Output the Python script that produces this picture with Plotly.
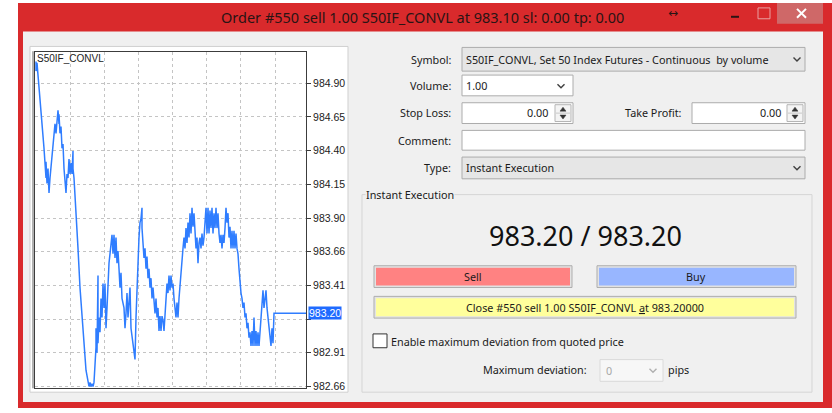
import plotly.graph_objects as go

W, H = 832, 413

# ---------------- data ----------------
symbol = "S50IF_CONVL"
symbol_desc = "Set 50 Index Futures - Continuous  by volume"
order_no = 550
side = "sell"
volume = "1.00"
open_price = "983.10"
sl, tp = "0.00", "0.00"
bid, ask = 983.20, 983.20
order_type = "Instant Execution"
max_dev = "0"

tick_no = [1, 1, 2, 3, 5, 7, 9, 10, 10, 11, 11, 12, 13, 14, 15, 16, 17, 18, 19, 20,
           21, 22, 22, 23, 24, 24, 25, 26, 27, 28, 29, 30, 31, 32, 33, 34, 35, 36, 37, 38,
           38, 39, 41, 43, 45, 47, 49, 51, 53, 54, 55, 56, 57, 58, 59, 60, 61, 61, 62, 63,
           63, 64, 65, 66, 67, 68, 69, 70, 71, 72, 73, 74, 75, 76, 77, 78, 79, 80, 81, 82,
           83, 84, 85, 86, 87, 89, 90, 91, 92, 93, 94, 95, 96, 97, 98, 99, 100, 101, 102, 103,
           104, 105, 106, 107, 107, 108, 109, 110, 111, 112, 113, 114, 115, 116, 117, 118, 119, 120, 121, 122,
           123, 124, 125, 126, 127, 128, 129, 130, 131, 132, 133, 134, 135, 136, 137, 138, 139, 140, 141, 142,
           143, 144, 145, 146, 147, 148, 149, 150, 151, 152, 153, 154, 155, 156, 157, 158, 159, 160, 161, 162,
           163, 164, 165, 166, 167, 168, 169, 170, 171, 172, 173, 174, 175, 176, 177, 178, 179, 180, 181, 182,
           183, 184, 185, 186, 187, 188, 189, 190, 191, 192, 193, 194, 195, 196, 197, 198, 199, 200, 201, 202,
           203, 204, 205, 206, 207, 208, 209, 210, 211, 212, 213, 214, 215, 216, 217, 218, 219, 220, 221, 222,
           223, 224, 225, 226, 227, 228, 229, 230, 231, 232, 233, 234, 235, 236, 237, 238, 239, 271]
price = [985.06, 984.99, 985.05, 984.97, 984.79, 984.60, 984.42, 984.31, 984.38, 984.20,
         984.32, 984.16, 984.27, 984.09, 984.20, 984.27, 984.34, 984.42, 984.49, 984.60,
         984.53, 984.65, 984.58, 984.70, 984.60, 984.67, 984.53, 984.58, 984.42, 984.45,
         984.27, 984.20, 984.09, 984.23, 984.20, 984.34, 984.23, 984.31, 984.23, 984.40,
         984.27, 984.20, 983.98, 983.68, 983.39, 983.17, 982.95, 982.78, 982.70, 982.66,
         982.69, 982.66, 982.68, 982.66, 982.69, 982.80, 982.95, 983.09, 982.91, 983.48,
         982.98, 983.17, 983.06, 983.31, 983.17, 983.42, 983.24, 983.42, 983.09, 983.24,
         983.46, 983.57, 983.64, 983.72, 983.78, 983.64, 983.78, 983.61, 983.76, 983.57,
         983.66, 983.53, 983.39, 983.50, 983.31, 983.24, 983.09, 983.20, 983.35, 983.17,
         983.28, 983.39, 983.09, 983.02, 982.98, 982.91, 982.86, 983.17, 983.39, 983.57,
         983.76, 983.87, 983.90, 983.98, 983.83, 983.72, 983.61, 983.68, 983.53, 983.62,
         983.46, 983.53, 983.39, 983.46, 983.31, 983.39, 983.28, 983.20, 983.31, 983.17,
         983.24, 983.07, 983.18, 983.07, 983.18, 983.15, 983.07, 983.17, 983.31, 983.42,
         983.35, 983.48, 983.37, 983.48, 983.39, 983.42, 983.31, 983.24, 983.17, 983.28,
         983.17, 983.31, 983.42, 983.50, 983.61, 983.68, 983.76, 983.68, 983.83, 983.72,
         983.87, 983.76, 983.94, 983.79, 983.98, 983.84, 983.94, 983.79, 983.68, 983.76,
         983.57, 983.72, 983.76, 983.68, 983.79, 983.70, 983.76, 983.87, 983.98, 983.79,
         983.98, 983.79, 983.96, 983.83, 983.98, 983.79, 983.94, 983.83, 983.98, 983.83,
         983.94, 983.79, 983.72, 983.78, 983.68, 983.78, 983.72, 983.83, 983.98, 983.87,
         983.94, 983.76, 983.84, 983.68, 983.81, 983.68, 983.81, 983.68, 983.79, 983.68,
         983.64, 983.53, 983.42, 983.35, 983.31, 983.24, 983.28, 983.17, 983.20, 983.09,
         983.13, 983.02, 983.06, 982.96, 983.07, 982.96, 983.17, 982.96, 983.07, 982.96,
         983.06, 982.96, 983.06, 983.17, 983.28, 983.37, 983.24, 983.31, 983.37, 983.24,
         983.17, 983.09, 983.02, 982.96, 983.09, 982.98, 983.20, 983.20]

price_ticks = [984.90, 984.651, 984.402, 984.153, 983.904, 983.656, 983.407, 983.158, 982.909, 982.66]
# the 983.16 label is hidden under the current-price tag in the reference
price_tick_labels = ["984.90", "984.65", "984.40", "984.15", "983.90", "983.66", "983.41",
                     "", "982.91", "982.66"]
time_grid = [35, 69, 103, 137, 171.5, 205.5, 240]

# ---------------- helpers ----------------
UI = "Noto Sans"
UIS = 10.8
NUM = "Liberation Sans"
RED = "#d92a2c"
BODY = "#f0f0f0"


def X(px):
    return px / W


def Y(py):
    return 1 - py / H


shapes = []
annots = []


def rect(x0, y0, x1, y1, fill, line=None, lw=1, layer="below"):
    shapes.append(dict(type="rect", xref="paper", yref="paper",
                       x0=X(x0), x1=X(x1), y0=Y(y1), y1=Y(y0),
                       fillcolor=fill,
                       line=dict(color=line if line else "rgba(0,0,0,0)", width=lw if line else 0),
                       layer=layer))


def path(points, color, lw=1.2, fill=None, closed=False, layer="above"):
    d = "M " + " L ".join(f"{X(a):.5f},{Y(b):.5f}" for a, b in points)
    if closed:
        d += " Z"
    shapes.append(dict(type="path", xref="paper", yref="paper", path=d,
                       line=dict(color=color, width=lw),
                       fillcolor=fill if fill else "rgba(0,0,0,0)", layer=layer))


def text(px, py, s, size=UIS, color="#1a1a1a", anchor="left", family=UI, bg=None):
    a = dict(xref="paper", yref="paper", x=X(px), y=Y(py), text=s, showarrow=False,
             xanchor=anchor, yanchor="middle", borderpad=0,
             font=dict(family=family, size=size, color=color))
    if bg:
        a["bgcolor"] = bg
    annots.append(a)


def chevron(cx, cy, color="#404040"):
    path([(cx - 3.5, cy - 1.8), (cx, cy + 1.8), (cx + 3.5, cy - 1.8)], color, lw=1.4)


def spinner(x0, y0, x1, y1):
    rect(x0, y0, x1, y1, "#f4f4f4", "#b5b5b5")
    cx = (x0 + x1) / 2
    my = (y0 + y1) / 2
    path([(x0 + 1, my), (x1 - 1, my)], "#c8c8c8", lw=1)
    path([(cx - 3, my - 2), (cx + 3, my - 2), (cx, my - 6)], "#333", lw=0.5, fill="#333", closed=True)
    path([(cx - 3, my + 2), (cx + 3, my + 2), (cx, my + 6)], "#333", lw=0.5, fill="#333", closed=True)


# ---------------- window frame ----------------
rect(18, 3, 832, 413, RED)
rect(23, 32, 823, 407, BODY)
rect(777, 3, 823, 24, "#cf6868")
title = f"Order #{order_no} {side} {volume} {symbol} at {open_price} sl: {sl} tp: {tp}"
text(422, 17, title, size=14.5, color="#2a1414", anchor="center")
text(673, 13, "↔", size=12, color="#2a1414", anchor="center", family="DejaVu Sans")
rect(731, 16, 739, 18, "#2a1414")
rect(758, 8, 770, 19, "rgba(0,0,0,0)", "#e8a0a0")
path([(797, 9), (806, 18)], "white", lw=2)
path([(806, 9), (797, 18)], "white", lw=2)

# chart container
rect(30, 47, 348, 397, "white", "#cfcfcf")
rect(32, 52, 34, 393, "#b0b0b0")

# ---------------- right panel ----------------
LX = 452
text(LX, 60, "Symbol:", anchor="right")
rect(462, 48, 805, 72, "#e6e6e6", "#acacac")
text(465, 60, f"{symbol}, {symbol_desc}")
chevron(797, 60)

text(LX, 87, "Volume:", anchor="right")
rect(462, 76, 573, 97, "white", "#acacac")
text(465, 87, volume)
chevron(561, 87)

text(LX, 114, "Stop Loss:", anchor="right")
rect(462, 104, 573, 125, "white", "#acacac")
text(549, 114, sl, anchor="right")
spinner(555, 106, 571, 123)

text(683, 114, "Take Profit:", anchor="right")
rect(692, 104, 805, 125, "white", "#acacac")
text(782, 114, tp, anchor="right")
spinner(787, 106, 803, 123)

text(LX, 142, "Comment:", anchor="right")
rect(462, 132, 805, 152, "white", "#acacac")

text(LX, 170, "Type:", anchor="right")
rect(462, 159, 805, 181, "#e6e6e6", "#acacac")
text(465, 170, order_type)
chevron(797, 170)

# group box
rect(362, 197, 812, 397, "rgba(0,0,0,0)", "#d5d5d5")
text(365, 197, "Instant Execution", bg=BODY)

text(585, 238, f"{bid:.2f} / {ask:.2f}", size=27, color="#111", anchor="center")

rect(374, 269, 572, 291, "#e3e3e3", "#adadad")
rect(376, 271, 570, 289, "#ff8282")
text(473, 280, "Sell", anchor="center")
rect(597, 269, 796, 291, "#e3e3e3", "#adadad")
rect(599, 271, 794, 289, "#98b6ff")
text(696, 280, "Buy", anchor="center")
rect(374, 300, 796, 322, "#e3e3e3", "#adadad")
rect(376, 302, 794, 320, "#ffff9c")
text(585, 311, f"Close #{order_no} {side} {volume} {symbol} <u>a</u>t {bid:.5f}", anchor="center")

rect(373, 338, 387, 352, "white", "#333333")
text(390, 346, "Enable maximum deviation from quoted price")

text(588, 374, "Maximum deviation:", anchor="right")
rect(600, 364, 663, 386, "#f7f7f7", "#dadada")
text(605, 375, max_dev, color="#a8a8a8")
chevron(653, 375, color="#b0b0b0")
text(667, 374, "pips")

# chart labels
text(36, 59, symbol, size=10, color="#222", family=NUM)
annots.append(dict(xref="paper", yref="y", x=X(308), y=bid, text=f"{bid:.2f}", showarrow=False,
                   xanchor="left", yanchor="middle", bgcolor="#1f6bff", borderpad=0,
                   font=dict(family=NUM, size=10.5, color="white")))

# ---------------- figure ----------------
fig = go.Figure(go.Scatter(x=tick_no, y=price, mode="lines",
                           line=dict(color="#2f7dff", width=1.5), hoverinfo="skip"))

fig.update_layout(
    width=W, height=H, autosize=False,
    margin=dict(l=0, r=0, t=0, b=0),
    paper_bgcolor="white", plot_bgcolor="white",
    showlegend=False,
    shapes=shapes, annotations=annots,
    xaxis=dict(domain=[X(35), X(306)], range=[0, 271], tickvals=time_grid,
               showticklabels=False, ticks="", showgrid=True, gridcolor="#c4c4c4",
               griddash="3px,3px", gridwidth=1, zeroline=False,
               showline=True, mirror=True, linecolor="#3c3c3c", linewidth=1, fixedrange=True),
    yaxis=dict(domain=[Y(392.3), Y(53)], range=[982.652, 985.128], side="right",
               tickvals=price_ticks, ticktext=price_tick_labels,
               ticks="outside", ticklen=4, tickcolor="#3c3c3c",
               tickfont=dict(family=NUM, size=10.5, color="#222"),
               showgrid=True, gridcolor="#c4c4c4", griddash="3px,3px", gridwidth=1,
               zeroline=False, showline=True, mirror=True, linecolor="#3c3c3c", linewidth=1,
               fixedrange=True),
)

fig.write_html("out.html", config={"displayModeBar": False},
               post_script="document.body.style.margin='0';document.body.style.overflow='hidden';")
